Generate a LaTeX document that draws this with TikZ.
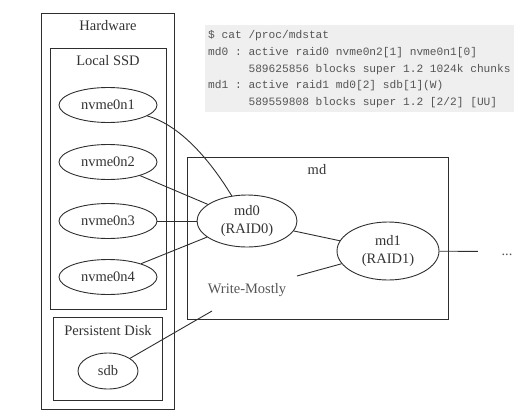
\documentclass[tikz,border=0pt]{standalone}
\usepackage{fontspec}
\setmainfont{Liberation Serif}
\setmonofont{Liberation Mono}
\usetikzlibrary{shapes.geometric}
\definecolor{linec}{HTML}{2E2E2E}
\definecolor{txtc}{HTML}{333333}
\definecolor{codebg}{HTML}{EFEFEF}
\definecolor{codetxt}{HTML}{555555}
\definecolor{wmtxt}{HTML}{555555}
\tikzset{
  cluster/.style={draw=linec, line width=1pt},
  clabel/.style={text=txtc, font=\fontsize{14.5}{17.5}\selectfont, inner sep=0pt},
  dev/.style={ellipse, draw=linec, line width=0.9pt, text=txtc, inner sep=0pt,
    font=\fontsize{14.5}{17.5}\selectfont, align=center},
  edge/.style={draw=linec, line width=0.9pt},
  codeline/.style={anchor=base west, inner sep=0pt, text=codetxt,
    font=\ttfamily\fontsize{11.2}{13}\selectfont},
}
\begin{document}
\begin{tikzpicture}[x=1pt,y=-1pt]
\useasboundingbox (0,0) rectangle (532,418);
% code box
\fill[codebg] (205,25) rectangle (514,112);
\node[codeline] (c1) at (208,38) {\$ cat /proc/mdstat};
\node[codeline] (c2) at (208,55) {md0 : active raid0 nvme0n2[1] nvme0n1[0]};
\node[codeline] (c3) at (208,72) {\hphantom{md0 : }589625856 blocks super 1.2 1024k chunks};
\node[codeline] (c4) at (208,88.5) {md1 : active raid1 md0[2] sdb[1](W)};
\node[codeline] (c5) at (208,105) {\hphantom{md1 : }589559808 blocks super 1.2 [2/2] [UU]};
% clusters
\draw[cluster] (41,13) rectangle (174,409);
\node[clabel] (hwl) at (108,26) {Hardware};
\draw[cluster] (50,48) rectangle (166,309);
\node[clabel] (ssdl) at (108,61) {Local SSD};
\draw[cluster] (53,317) rectangle (162,400);
\node[clabel] (pdl) at (108,331) {Persistent Disk};
\draw[cluster] (187,157) rectangle (448,319);
\node[clabel] (mdl) at (317,170) {md};
% devices
\node[dev, minimum width=98pt, minimum height=35pt] (n1) at (108,105) {nvme0n1};
\node[dev, minimum width=98pt, minimum height=35pt] (n2) at (108,162) {nvme0n2};
\node[dev, minimum width=98pt, minimum height=35pt] (n3) at (108,221) {nvme0n3};
\node[dev, minimum width=98pt, minimum height=35pt] (n4) at (108,277) {nvme0n4};
\node[dev, minimum width=60pt, minimum height=36pt] (sdb) at (108,371) {sdb};
\node[dev, minimum width=100pt, minimum height=52pt] (md0) at (247,221) {md0\\(RAID0)};
\node[dev, minimum width=102pt, minimum height=58pt] (md1) at (388,251) {md1\\(RAID1)};
\node[text=codetxt, font=\fontsize{14.5}{17.5}\selectfont, inner sep=0pt,
  text height=8pt, text depth=0pt, minimum width=58pt, anchor=base] (dots) at (507,255.5) {...};
\node[text=wmtxt, font=\fontsize{14.5}{17.5}\selectfont, inner sep=0pt] (wm) at (247,290) {Write-Mostly};
\coordinate (wm1) at (212,311);
\coordinate (wm2) at (297,276);
% edges
\draw[edge] (n1) .. controls (180,125) and (210,160) .. (md0);
\draw[edge] (n2) -- (md0);
\draw[edge] (n3) -- (md0);
\draw[edge] (n4) -- (md0);
\draw[edge] (md0) -- (md1);
\draw[edge] (md1) -- (dots);
\draw[edge] (sdb) -- (wm1);
\draw[edge] (wm2) -- (md1);
\end{tikzpicture}
\end{document}
